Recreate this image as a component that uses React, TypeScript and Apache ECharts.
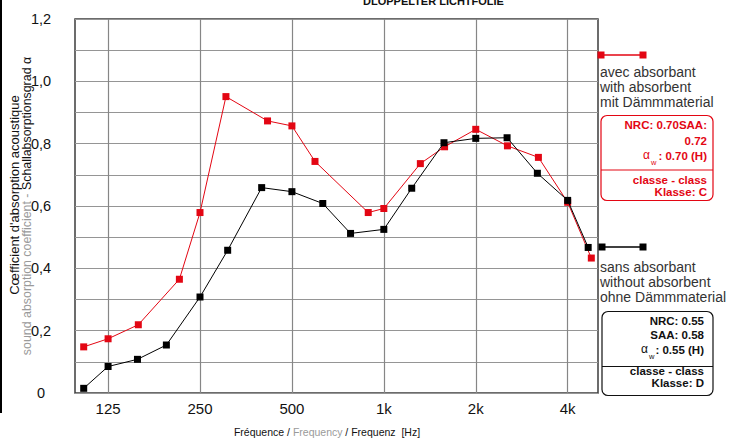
import React, { useEffect, useRef } from 'react';
import * as echarts from 'echarts';

// Frequency ticks (Hz) and their labels
const freqTicks = [125, 250, 500, 1000, 2000, 4000];
const freqTickLabels = ['125', '250', '500', '1k', '2k', '4k'];

// avec absorbant / with absorbent (red)
const redFreq = [104, 125, 157, 214, 250, 304, 416, 500, 595, 889, 1000, 1317, 1581, 2000, 2540, 3208, 4000, 4781];
const redAlpha = [0.148, 0.174, 0.219, 0.365, 0.579, 0.951, 0.873, 0.857, 0.743, 0.579, 0.592, 0.736, 0.79, 0.846, 0.793, 0.756, 0.612, 0.433];

// sans absorbant / without absorbent (black)
const blackFreq = [104, 125, 156, 194, 250, 308, 398, 500, 631, 778, 1000, 1234, 1574, 2000, 2533, 3183, 4000, 4669];
const blackAlpha = [0.015, 0.085, 0.108, 0.154, 0.308, 0.458, 0.659, 0.646, 0.608, 0.512, 0.525, 0.657, 0.803, 0.817, 0.819, 0.705, 0.618, 0.467];

const toOct = (f: number) => Math.log2(f / 125);

export default function App() {
  const ref = useRef<HTMLDivElement>(null);
  useEffect(() => {
    document.body.style.margin = '0';
    const chart = echarts.init(ref.current!, null, { renderer: 'svg' });
    const RED = '#e30613';
    const FONT = '"Liberation Sans", Arial, Helvetica, sans-serif';
    const tickVals = freqTicks.map(toOct);
    const txt = (x: number, y: number, text: string, o: any = {}) => ({
      type: 'text',
      x,
      y,
      silent: true,
      style: {
        text,
        fill: o.fill || '#111',
        fontSize: o.fontSize || 12,
        fontWeight: o.fontWeight || 'normal',
        fontFamily: FONT,
        align: o.align || 'left',
        textAlign: o.align || 'left',
        verticalAlign: o.va || 'middle',
        textVerticalAlign: o.va || 'middle',
        rich: o.rich,
      },
      rotation: o.rotation || 0,
    });
    const BF = 11.5;
    const boxText = (color: string, right: number, lines: [string, number][], alphaLine: { y: number; ax: number; val: string }) => {
      const els: any[] = lines.map(([t, y]) => txt(right, y, t, { fill: color, fontWeight: 'bold', fontSize: BF, align: 'right' }));
      els.push(txt(right, alphaLine.y, alphaLine.val, { fill: color, fontWeight: 'bold', fontSize: BF, align: 'right' }));
      els.push(txt(alphaLine.ax, alphaLine.y - 1, 'α', { fill: color, fontSize: 12 }));
      els.push(txt(alphaLine.ax + 8, alphaLine.y + 6, 'w', { fill: color, fontSize: 7.5 }));
      return els;
    };

    chart.setOption({
      animation: false,
      textStyle: { fontFamily: FONT },
      grid: {
        left: 75,
        right: 138,
        top: 19,
        bottom: 46,
        show: true,
        borderColor: '#3c3c3c',
        borderWidth: 1.5,
        backgroundColor: 'transparent',
      },
      xAxis: {
        type: 'value',
        min: -0.36,
        max: 5.33,
        axisLine: { show: false },
        axisTick: { show: false, customValues: tickVals },
        axisLabel: {
          customValues: tickVals,
          fontSize: 15,
          color: '#111',
          margin: 8,
          formatter: (v: number) => {
            let best = 0;
            tickVals.forEach((t, i) => {
              if (Math.abs(t - v) < Math.abs(tickVals[best] - v)) best = i;
            });
            return freqTickLabels[best];
          },
        },
        splitLine: { show: true, lineStyle: { color: '#868686', width: 1.2 } },
      },
      yAxis: {
        type: 'value',
        min: 0,
        max: 1.2,
        interval: 0.1,
        axisLine: { show: false },
        axisTick: { show: false },
        axisLabel: {
          fontSize: 14.5,
          color: '#111',
          align: 'center',
          margin: 34,
          formatter: (v: number) => {
            const k = Math.round(v * 10);
            if (k % 2) return '';
            if (k === 0) return '0';
            return (k / 10).toFixed(1).replace('.', ',');
          },
        },
        splitLine: { show: true, lineStyle: { color: '#959595', width: 1.2 } },
      },
      series: [
        {
          type: 'line',
          name: 'avec absorbant',
          data: redFreq.map((f, i) => [toOct(f), redAlpha[i]]),
          symbol: 'rect',
          symbolSize: 7,
          lineStyle: { color: RED, width: 1 },
          itemStyle: { color: RED },
          z: 3,
        },
        {
          type: 'line',
          name: 'sans absorbant',
          data: blackFreq.map((f, i) => [toOct(f), blackAlpha[i]]),
          symbol: 'rect',
          symbolSize: 7,
          lineStyle: { color: '#000', width: 1 },
          itemStyle: { color: '#000' },
          z: 4,
        },
      ],
      graphic: {
        elements: [
          { type: 'rect', shape: { x: 0, y: 0, width: 2, height: 413 }, style: { fill: '#000' }, silent: true },
          txt(363, 1, 'DLOPPELTER LICHTFOLIE', { fontWeight: 'bold', fontSize: 11 }),
          // Y axis name
          txt(14, 195, "Cœfficient d'absorption acoustique", { rotation: Math.PI / 2, align: 'center', fontSize: 13 }),
          txt(27, 206, '{g|sound absorption coefficient - }{k|Schallabsorptionsgrad α}', {
            rotation: Math.PI / 2,
            align: 'center',
            fontSize: 12.4,
            rich: {
              g: { fill: '#9a9a9a', fontSize: 12.4, fontFamily: FONT },
              k: { fill: '#111', fontSize: 12.4, fontFamily: FONT },
            },
          }),
          // X axis name
          txt(327, 432, '{k|Fréquence / }{g|Frequency}{k| / Frequenz  [Hz]}', {
            align: 'center',
            fontSize: 10.5,
            rich: {
              g: { fill: '#9a9a9a', fontSize: 10.5, fontFamily: FONT },
              k: { fill: '#111', fontSize: 10.5, fontFamily: FONT },
            },
          }),
          // Red legend
          { type: 'line', shape: { x1: 601, y1: 55, x2: 643, y2: 55 }, style: { stroke: RED, lineWidth: 1.5 }, silent: true },
          { type: 'rect', shape: { x: 597.5, y: 51.5, width: 7, height: 7 }, style: { fill: RED }, silent: true },
          { type: 'rect', shape: { x: 639.5, y: 51.5, width: 7, height: 7 }, style: { fill: RED }, silent: true },
          txt(600, 72, 'avec absorbant', { fontSize: 14, fill: '#333' }),
          txt(600, 87, 'with absorbent', { fontSize: 14, fill: '#333' }),
          txt(600, 102, 'mit Dämmmaterial', { fontSize: 14, fill: '#333' }),
          { type: 'rect', shape: { x: 601, y: 115.5, width: 112, height: 85, r: 6 }, style: { fill: 'none', stroke: RED, lineWidth: 1.2 }, silent: true },
          { type: 'line', shape: { x1: 601, y1: 170, x2: 713, y2: 170 }, style: { stroke: RED, lineWidth: 1 }, silent: true },
          ...boxText(RED, 707, [['NRC: 0.70SAA:', 125], ['0.72', 141], ['classe - class', 180], ['Klasse: C', 192]], { y: 156, ax: 643, val: ': 0.70 (H)' }),
          // Black legend
          { type: 'line', shape: { x1: 602, y1: 247, x2: 643, y2: 247 }, style: { stroke: '#000', lineWidth: 1.5 }, silent: true },
          { type: 'rect', shape: { x: 598.5, y: 243.5, width: 7, height: 7 }, style: { fill: '#000' }, silent: true },
          { type: 'rect', shape: { x: 639.5, y: 243.5, width: 7, height: 7 }, style: { fill: '#000' }, silent: true },
          txt(600, 267, 'sans absorbant', { fontSize: 14, fill: '#333' }),
          txt(600, 282, 'without absorbent', { fontSize: 14, fill: '#333' }),
          txt(600, 297, 'ohne Dämmmaterial', { fontSize: 14, fill: '#333' }),
          { type: 'rect', shape: { x: 602, y: 311.5, width: 111, height: 84, r: 6 }, style: { fill: 'none', stroke: '#111', lineWidth: 1.2 }, silent: true },
          { type: 'line', shape: { x1: 602, y1: 366.5, x2: 713, y2: 366.5 }, style: { stroke: '#111', lineWidth: 1 }, silent: true },
          ...boxText('#111', 704, [['NRC: 0.55', 321], ['SAA: 0.58', 335], ['classe - class', 371], ['Klasse: D', 383]], { y: 350, ax: 641, val: ': 0.55 (H)' }),
        ],
      },
    });
    return () => chart.dispose();
  }, []);
  return <div ref={ref} style={{ width: 736, height: 439 }} />;
}
